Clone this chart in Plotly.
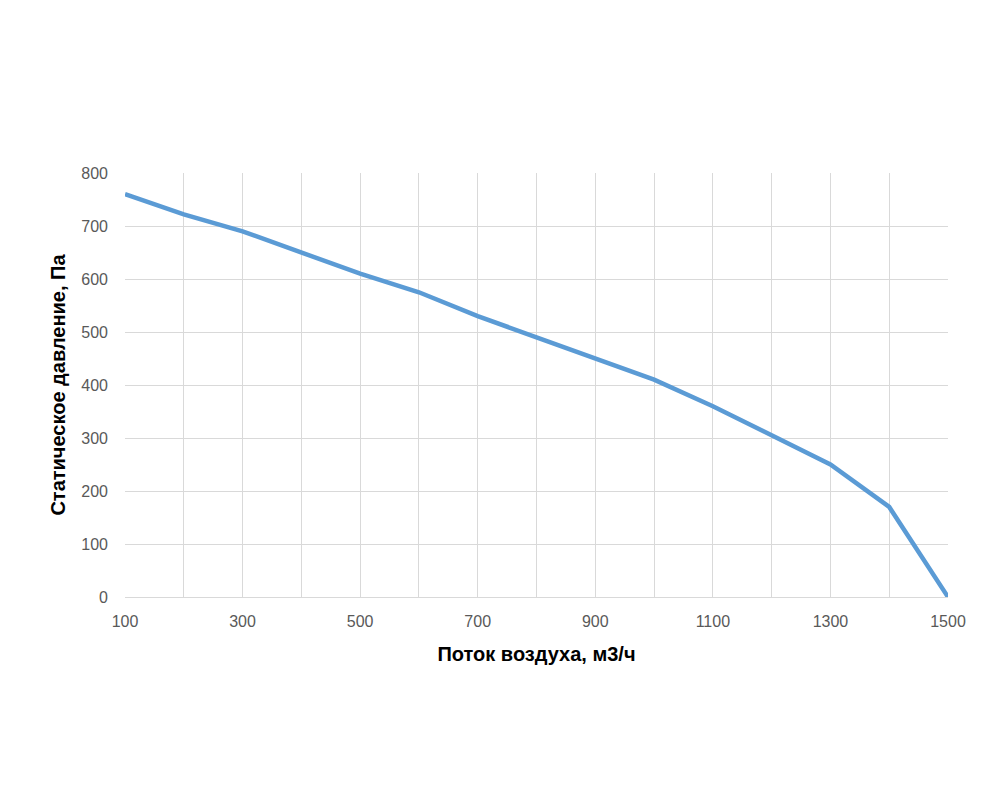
import plotly.graph_objects as go

flow = [100, 200, 300, 400, 500, 600, 700, 800, 900, 1000, 1100, 1200, 1300, 1400, 1500]
pressure = [760, 722, 690, 650, 610, 575, 530, 490, 450, 410, 360, 305, 250, 170, 0]
x_ticks = [100, 300, 500, 700, 900, 1100, 1300, 1500]
y_ticks = [0, 100, 200, 300, 400, 500, 600, 700, 800]

fig = go.Figure()
fig.add_trace(go.Scatter(x=flow, y=pressure, mode="lines",
                         line=dict(color="#5B9BD5", width=4.5), hoverinfo="x+y"))

grid = "#D9D9D9"
fig.update_layout(
    width=991, height=811,
    margin=dict(l=117, r=51, t=165, b=222),
    paper_bgcolor="white", plot_bgcolor="white",
    showlegend=False,
    font=dict(family="Liberation Sans, Arial, sans-serif", color="#595959", size=16),
    xaxis=dict(range=[100, 1500], tickvals=x_ticks, showgrid=True, gridcolor=grid, gridwidth=1,
               minor=dict(dtick=100, tick0=100, showgrid=True, gridcolor=grid, gridwidth=1),
               zeroline=False, showline=True, linecolor=grid, linewidth=1,
               ticks="", ticklabelstandoff=10,
               title=dict(text="<b>Поток воздуха, м3/ч</b>", font=dict(size=20, color="black"), standoff=17)),
    yaxis=dict(range=[0, 800], tickvals=y_ticks, showgrid=True, gridcolor=grid, gridwidth=1,
               zeroline=False, showline=False, ticks="", ticklabelstandoff=16,
               title=dict(text="<b>Статическое давление, Па</b>", font=dict(size=20, color="black"), standoff=10)),
)

fig.write_html("out.html")
